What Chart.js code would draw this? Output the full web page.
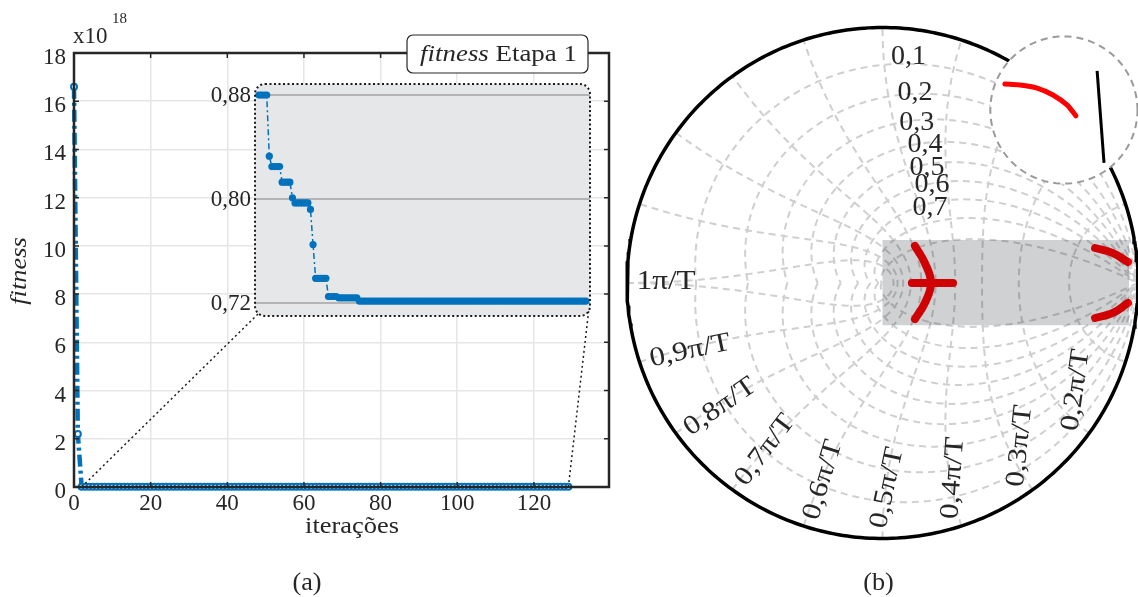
<!DOCTYPE html>
<html>
<head>
<meta charset="utf-8">
<script src="https://cdn.jsdelivr.net/npm/chart.js@4.4.1/dist/chart.umd.min.js"></script>
<style>
  html, body { margin: 0; padding: 0; background: #fff; }
  #wrap { position: relative; width: 1138px; height: 597px; overflow: hidden; }
  canvas { position: absolute; }
  #main { left: 0; top: 0; }
  #zoom { left: 200px; top: 44px; }
  #zplane { left: 620px; top: 0; }
</style>
</head>
<body>
<div id="wrap">
  <canvas id="main" width="620" height="597"></canvas>
  <canvas id="zoom" width="400" height="312"></canvas>
  <canvas id="zplane" width="518" height="597"></canvas>
</div>
<script>
// ---- dados (a): fitness por iteração ----
// iterações 0 e 1, em x10^18
const fitnessStart = [16.6, 2.2];
// iterações 2..129, escala do detalhe (x10^16)
const fitnessZoom = [
  0.880, 0.880, 0.880, 0.880, 0.833, 0.825, 0.825, 0.825, 0.825, 0.813,
  0.813, 0.813, 0.813, 0.801, 0.797, 0.797, 0.797, 0.797, 0.797, 0.797,
  0.792, 0.765, 0.739, 0.739, 0.739, 0.739, 0.739, 0.725, 0.725, 0.725,
  0.725, 0.724, 0.724, 0.724, 0.724, 0.724, 0.724, 0.724, 0.724, 0.7215,
  0.7215, 0.7215, 0.7215, 0.7215, 0.7215, 0.7215, 0.7215, 0.7215, 0.7215, 0.7215, 0.7215,
  0.7215, 0.7215, 0.7215, 0.7215, 0.7215, 0.7215, 0.7215, 0.7215, 0.7215, 0.7215, 0.7215,
  0.7215, 0.7215, 0.7215, 0.7215, 0.7215, 0.7215, 0.7215, 0.7215, 0.7215, 0.7215, 0.7215,
  0.7215, 0.7215, 0.7215, 0.7215, 0.7215, 0.7215, 0.7215, 0.7215, 0.7215, 0.7215, 0.7215,
  0.7215, 0.7215, 0.7215, 0.7215, 0.7215, 0.7215, 0.7215, 0.7215, 0.7215, 0.7215, 0.7215,
  0.7215, 0.7215, 0.7215, 0.7215, 0.7215, 0.7215, 0.7215, 0.7215, 0.7215, 0.7215, 0.7215,
  0.7215, 0.7215, 0.7215, 0.7215, 0.7215, 0.7215, 0.7215, 0.7215, 0.7215, 0.7215, 0.7215,
  0.7215, 0.7215, 0.7215, 0.7215, 0.7215, 0.7215, 0.7215, 0.7215, 0.7215, 0.7215, 0.7215
];
const xTicks = [0, 20, 40, 60, 80, 100, 120];
const yTicks = [0, 2, 4, 6, 8, 10, 12, 14, 16, 18];
const zoomTicks = [0.72, 0.80, 0.88];

// ---- dados (b): plano z ----
const zetaGrid = [0.1, 0.2, 0.3, 0.4, 0.5, 0.6, 0.7, 0.8, 0.9];
const wnGrid = [0.1, 0.2, 0.3, 0.4, 0.5, 0.6, 0.7, 0.8, 0.9, 1.0]; // x pi/T
const zetaText = ['0,1', '0,2', '0,3', '0,4', '0,5', '0,6', '0,7'];
const wnText = ['0,2π/T', '0,3π/T', '0,4π/T', '0,5π/T', '0,6π/T', '0,7π/T', '0,8π/T', '0,9π/T', '1π/T'];
const poleArc = [[0.127, 0.145], [0.166, 0.078], [0.190, 0], [0.166, -0.078], [0.127, -0.141]];
const poleBar = [[0.115, 0], [0.276, 0]];
const poleArcUp = [[0.832, 0.137], [0.902, 0.117], [0.961, 0.082]];
const poleArcDown = [[0.832, -0.137], [0.902, -0.117], [0.961, -0.078]];
const lensArc = [[0.479, 0.779], [0.538, 0.775], [0.605, 0.763], [0.667, 0.736], [0.722, 0.697], [0.757, 0.654]];
const lensEdge = [[0.840, 0.830], [0.867, 0.470]];
const zoneX = [0, 0.965];
const zoneY = [-0.165, 0.168];
const lensCenter = [0.71, 0.677];
const lensRadius = 0.288;
const circleGap = [27, 60.1]; // graus

// posição dos rótulos (coordenadas do plano z)
const zetaTextAt = [[0.033, 0.857], [0.059, 0.716], [0.066, 0.599], [0.098, 0.513], [0.106, 0.423], [0.125, 0.356], [0.117, 0.266]];
const wnTextAt = [[0.757, -0.419], [0.538, -0.638], [0.276, -0.763], [0.018, -0.802], [-0.233, -0.771], [-0.460, -0.654], [-0.636, -0.485], [-0.753, -0.266], [-0.847, 0.004]];
const wnTextRot = [-82, -84, -86, -78, -73, -53, -35, -12, 0];

const SERIF = '"Liberation Serif", "Times New Roman", serif';
const INK = '#262626';
const BLUE = '#0072bd';

function say(ctx, text, x, y, o) {
  o = o || {};
  ctx.save();
  ctx.translate(x, y);
  if (o.rot) ctx.rotate(o.rot * Math.PI / 180);
  ctx.scale(o.sx || 1, 1);
  ctx.font = (o.italic ? 'italic ' : '') + (o.size || 22) + 'px ' + SERIF;
  ctx.fillStyle = INK;
  ctx.textAlign = o.align || 'left';
  ctx.textBaseline = o.base || 'alphabetic';
  ctx.fillText(text, 0, 0);
  ctx.restore();
}

function roundBox(ctx, x, y, w, h, r) {
  ctx.beginPath();
  ctx.moveTo(x + r, y);
  ctx.arcTo(x + w, y, x + w, y + h, r);
  ctx.arcTo(x + w, y + h, x, y + h, r);
  ctx.arcTo(x, y + h, x, y, r);
  ctx.arcTo(x, y, x + w, y, r);
  ctx.closePath();
}

const pts = arr => arr.map(p => ({ x: p[0], y: p[1] }));
const base = { responsive: false, animation: false, devicePixelRatio: 1, events: [],
  plugins: { legend: { display: false }, tooltip: { enabled: false } } };

// ---------- detalhe (inset) ----------
const zoomPanel = {
  id: 'zoomPanel',
  beforeDraw(chart) {
    const { ctx, chartArea: a } = chart;
    ctx.save();
    roundBox(ctx, a.left, a.top, a.right - a.left, a.bottom - a.top, 10);
    ctx.fillStyle = '#e6e7e9';
    ctx.fill();
    ctx.restore();
  },
  afterDraw(chart) {
    const { ctx, chartArea: a } = chart;
    ctx.save();
    roundBox(ctx, a.left, a.top, a.right - a.left, a.bottom - a.top, 10);
    ctx.setLineDash([2, 2.5]);
    ctx.lineWidth = 2;
    ctx.strokeStyle = '#1a1a1a';
    ctx.stroke();
    ctx.restore();
  }
};

const zoomChart = new Chart(document.getElementById('zoom'), {
  type: 'line',
  data: {
    datasets: [{
      data: fitnessZoom.map((v, i) => ({ x: i + 2, y: v })),
      borderColor: BLUE, borderWidth: 1.5, borderDash: [6, 3, 2, 3],
      pointRadius: 3.6, pointBackgroundColor: BLUE, pointBorderWidth: 0, clip: false
    }]
  },
  options: Object.assign({}, base, {
    layout: { padding: { top: 40, right: 10, bottom: 40, left: 0 } },
    scales: {
      x: { type: 'linear', min: 0.45, max: 130.6, display: false },
      y: {
        min: 0.71, max: 0.8885,
        afterBuildTicks: s => { s.ticks = zoomTicks.map(v => ({ value: v })); },
        afterFit: s => { s.width = 55; },
        grid: { color: '#b4b4b4', lineWidth: 2, drawTicks: false },
        border: { display: false },
        ticks: { color: INK, font: { family: SERIF, size: 23 }, padding: 4, labelOffset: 1,
          callback: v => v.toFixed(2).replace('.', ',') }
      }
    }
  }),
  plugins: [zoomPanel]
});

// posição do detalhe na figura, para as linhas de ligação
const zoomCanvas = document.getElementById('zoom');
const zoomBox = {
  left: zoomCanvas.offsetLeft + zoomChart.chartArea.left,
  right: zoomCanvas.offsetLeft + zoomChart.chartArea.right,
  bottom: zoomCanvas.offsetTop + zoomChart.chartArea.bottom
};

// ---------- gráfico (a) ----------
const frame = {
  id: 'frame',
  afterDatasetsDraw(chart) {
    const { ctx, scales: { x, y } } = chart;
    ctx.save();
    ctx.strokeStyle = '#1a1a1a';
    ctx.lineWidth = 1.5;
    ctx.setLineDash([2, 3]);
    ctx.beginPath();
    ctx.moveTo(x.getPixelForValue(2), y.getPixelForValue(0));
    ctx.lineTo(zoomBox.left + 4, zoomBox.bottom - 3);
    ctx.moveTo(x.getPixelForValue(fitnessZoom.length + 1), y.getPixelForValue(0));
    ctx.lineTo(zoomBox.right - 1, zoomBox.bottom - 8);
    ctx.stroke();
    ctx.restore();
  },
  afterDraw(chart) {
    const { ctx, chartArea: a, scales: { x, y } } = chart;
    ctx.save();
    ctx.strokeStyle = INK;
    ctx.lineWidth = 1.5;
    ctx.beginPath();
    xTicks.forEach(v => {
      const px = x.getPixelForValue(v);
      ctx.moveTo(px, a.bottom); ctx.lineTo(px, a.bottom - 5);
      ctx.moveTo(px, a.top); ctx.lineTo(px, a.top + 5);
    });
    yTicks.forEach(v => {
      const py = y.getPixelForValue(v);
      ctx.moveTo(a.left, py); ctx.lineTo(a.left + 5, py);
      ctx.moveTo(a.right, py); ctx.lineTo(a.right - 5, py);
    });
    ctx.stroke();
    ctx.lineWidth = 2.5;
    ctx.strokeRect(a.left, a.top, a.right - a.left, a.bottom - a.top);

    // legenda
    const bx = 407, bw = a.right - 21 - bx, by = a.top - 18, bh = 38;
    roundBox(ctx, bx, by, bw, bh, 6);
    ctx.fillStyle = '#fff';
    ctx.fill();
    ctx.lineWidth = 1.2;
    ctx.stroke();
    const sx = 1.12;
    ctx.font = 'italic 24px ' + SERIF;
    const w1 = ctx.measureText('fitness').width;
    ctx.font = '24px ' + SERIF;
    const w2 = ctx.measureText(' Etapa 1').width;
    const x0 = bx + bw / 2 + 1 - (w1 + w2) * sx / 2;
    say(ctx, 'fitness', x0, a.top + 8, { italic: true, size: 24, sx });
    say(ctx, ' Etapa 1', x0 + w1 * sx, a.top + 8, { size: 24, sx });

    // títulos e expoente
    say(ctx, 'x10', a.left - 1, 43, { size: 23 });
    say(ctx, '18', a.left + 38, 23, { size: 15 });
    say(ctx, 'fitness', 20, (a.top + a.bottom) / 2 + 1, { italic: true, size: 24, sx: 1.1, rot: -90, align: 'center', base: 'middle' });
    say(ctx, 'iterações', 352, 533, { size: 24, sx: 1.1, align: 'center' });
    say(ctx, '(a)', 307, 590, { size: 25, sx: 1.05, align: 'center' });
    ctx.restore();
  }
};

new Chart(document.getElementById('main'), {
  type: 'line',
  data: {
    datasets: [{
      data: fitnessStart.concat(fitnessZoom.map(v => v / 100)).map((v, i) => ({ x: i, y: v })),
      borderColor: BLUE, borderWidth: 4.5, borderDash: [12, 4, 3, 4],
      pointRadius: 3, pointBackgroundColor: '#fff', pointBorderColor: BLUE, pointBorderWidth: 2,
      clip: false
    }]
  },
  options: Object.assign({}, base, {
    layout: { padding: { top: 53, right: 11, bottom: 50, left: 0 } },
    scales: {
      x: {
        type: 'linear', min: 0, max: 139.6,
        afterBuildTicks: s => { s.ticks = xTicks.map(v => ({ value: v })); },
        afterFit: s => { s.height = 60; },
        grid: { color: '#e6e6e6', lineWidth: 1.5, drawTicks: false },
        border: { display: false },
        ticks: { color: INK, font: { family: SERIF, size: 23 }, padding: 3, maxRotation: 0, autoSkip: false,
          callback: v => String(v) }
      },
      y: {
        min: 0, max: 18,
        afterBuildTicks: s => { s.ticks = yTicks.map(v => ({ value: v })); },
        afterFit: s => { s.width = 74; },
        grid: { color: '#e6e6e6', lineWidth: 1.5, drawTicks: false },
        border: { display: false },
        ticks: { color: INK, font: { family: SERIF, size: 23 }, padding: 8, labelOffset: 5, autoSkip: false,
          callback: v => String(v) }
      }
    }
  }),
  plugins: [frame]
});

// ---------- gráfico (b): grade do plano z ----------
const gridStyle = { borderColor: '#cfcfcf', borderWidth: 2, borderDash: [7, 5], pointRadius: 0, fill: false, order: 5, clip: false };

const zetaSets = zetaGrid.map(z => {
  const d = [];
  for (let i = -180; i <= 180; i += 2) {
    const ph = i * Math.PI / 180;
    const r = Math.exp(-z * Math.abs(ph) / Math.sqrt(1 - z * z));
    d.push({ x: r * Math.cos(ph), y: r * Math.sin(ph) });
  }
  return Object.assign({ data: d }, gridStyle);
});

const wnSets = wnGrid.map(w => {
  const W = w * Math.PI, d = [];
  for (let i = -90; i <= 90; i += 2) {
    const b = i * Math.PI / 180;
    const r = Math.exp(-W * Math.cos(b)), th = W * Math.sin(b);
    d.push({ x: r * Math.cos(th), y: r * Math.sin(th) });
  }
  return Object.assign({ data: d }, gridStyle);
});

const ring = [];
for (let g = circleGap[1]; g < circleGap[0] + 360; g += 1) {
  ring.push({ x: Math.cos(g * Math.PI / 180), y: Math.sin(g * Math.PI / 180) });
}
ring.push({ x: Math.cos(circleGap[0] * Math.PI / 180), y: Math.sin(circleGap[0] * Math.PI / 180) });

const lens = [];
for (let g = 0; g <= 360; g += 3) {
  lens.push({ x: lensCenter[0] + lensRadius * Math.cos(g * Math.PI / 180), y: lensCenter[1] + lensRadius * Math.sin(g * Math.PI / 180) });
}

const zone = pts([[zoneX[0], zoneY[0]], [zoneX[1], zoneY[0]], [zoneX[1], zoneY[1]], [zoneX[0], zoneY[1]], [zoneX[0], zoneY[0]]]);

const red = { borderColor: '#ff0000', borderWidth: 8, borderCapStyle: 'round', pointRadius: 0, tension: 0.4, fill: false, order: 4, clip: false };

const zLabels = {
  id: 'zLabels',
  afterDatasetsDraw(chart) {
    const { ctx, scales: { x, y } } = chart;
    zetaText.forEach((t, i) => {
      say(ctx, t, x.getPixelForValue(zetaTextAt[i][0]), y.getPixelForValue(zetaTextAt[i][1]), { size: 28 });
    });
    wnText.forEach((t, i) => {
      say(ctx, t, x.getPixelForValue(wnTextAt[i][0]), y.getPixelForValue(wnTextAt[i][1]),
        { size: 27, sx: 1.15, rot: wnTextRot[i], align: 'center', base: 'middle' });
    });
    say(ctx, '(b)', x.getPixelForValue(0) - 4, 590, { size: 25, sx: 1.05, align: 'center' });
  }
};

new Chart(document.getElementById('zplane'), {
  type: 'line',
  data: {
    datasets: [
      { data: pts(lensArc), borderColor: '#ff0000', borderWidth: 5, borderCapStyle: 'round', pointRadius: 0, tension: 0.3, fill: false, order: 0, clip: false },
      { data: pts(lensEdge), borderColor: '#000', borderWidth: 3, pointRadius: 0, fill: false, order: 0, clip: false },
      { data: lens, borderColor: '#9a9a9a', borderWidth: 2, borderDash: [7, 5], backgroundColor: '#fff', fill: 'shape', pointRadius: 0, order: 1, clip: false },
      { data: ring, borderColor: '#000', borderWidth: 3.5, pointRadius: 0, fill: false, order: 2, clip: false },
      { data: zone, borderColor: 'rgba(0,0,0,0)', borderWidth: 1, backgroundColor: 'rgba(0,4,12,0.185)', fill: 'shape', pointRadius: 0, order: 3 },
      Object.assign({ data: pts(poleArc) }, red),
      Object.assign({ data: pts(poleBar) }, red),
      Object.assign({ data: pts(poleArcUp) }, red),
      Object.assign({ data: pts(poleArcDown) }, red)
    ].concat(zetaSets, wnSets)
  },
  options: Object.assign({}, base, {
    layout: { padding: { top: 27.5, right: 0, bottom: 58.5, left: 7 } },
    scales: {
      x: { type: 'linear', min: -1, max: 1, display: false },
      y: { type: 'linear', min: -1, max: 1, display: false }
    }
  }),
  plugins: [zLabels]
});
</script>
</body>
</html>
